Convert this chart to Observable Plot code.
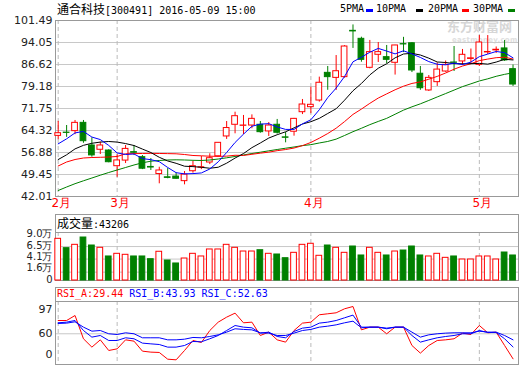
<!DOCTYPE html>
<html><head><meta charset="utf-8">
<script src="https://cdn.jsdelivr.net/npm/d3@7"></script>
<script src="https://cdn.jsdelivr.net/npm/@observablehq/plot@0.6"></script>
<style>
body{margin:0;background:#fff;}
#wrap{position:relative;width:520px;height:365px;overflow:hidden;background:#fff;font-family:"DejaVu Sans",sans-serif;color:#000;}
.abs{position:absolute;white-space:nowrap;}
.mono{font-family:"DejaVu Sans Mono",monospace;font-size:10px;}
.cjk{font-family:"Noto Sans CJK SC",sans-serif;font-size:12px;}
.sw{position:absolute;width:7px;height:3px;}
.box{position:absolute;box-sizing:border-box;border:1px solid #999;border-bottom:none;}
#wrap svg{position:absolute;left:0;}
</style></head><body>
<div id="wrap">
  <div class="abs" style="left:447px;top:19px;line-height:14px;font-family:'Noto Sans CJK SC';font-weight:bold;font-size:13px;color:#d6d6d6;">东方财富网</div>
  <div class="abs" style="left:452px;top:37px;line-height:7px;font-family:'DejaVu Sans';font-weight:bold;font-size:7px;color:#e0e0e0;letter-spacing:0.3px;">eastmoney.com</div>
</div>
<script>
// ---- data ----
const opens  = [62.5,63.6,64.1,66.9,59.25,57.8,57.55,52.25,54.15,57.0,55.3,52.0,49.6,48.5,48.75,47.2,50.55,51.8,53.5,55.6,62.3,66.25,65.9,66.0,66.25,64.0,66.25,62.0,63.9,70.5,72.2,74.45,83.8,82.1,82.35,98.0,95.3,85.5,89.9,89.1,87.2,93.5,93.8,83.5,77.85,80.65,84.25,87.3,87.65,88.5,86.5,90.7,91.4,92.05,85.05];
const highs  = [67.4,66.0,67.7,67.7,61.85,60.35,57.8,56.1,59.25,59.25,55.85,54.85,51.9,51.45,50.0,50.45,53.95,55.55,56.45,60.2,67.35,70.5,69.4,69.6,67.35,67.0,68.05,63.65,68.4,74.8,78.95,82.35,85.95,89.65,93.0,100.0,95.85,94.75,94.05,93.05,93.1,95.8,94.0,85.95,82.9,87.15,87.8,92.7,91.7,91.85,96.4,96.4,92.55,94.75,86.45];
const lows   = [61.2,62.0,62.9,60.0,55.3,56.2,53.4,48.5,53.15,55.85,51.1,50.8,46.3,48.0,47.9,45.95,49.9,51.1,52.8,55.3,61.3,63.2,62.95,64.9,63.4,62.3,63.1,60.15,62.4,69.7,70.0,73.9,77.9,77.85,82.0,92.05,87.4,85.15,87.3,86.85,83.05,90.65,83.9,77.9,77.5,79.2,84.0,84.25,86.3,86.6,85.95,90.0,90.35,87.65,79.2];
const closes = [63.4,63.5,66.9,60.7,55.9,59.25,53.6,54.2,58.1,56.8,51.4,51.8,50.8,48.3,48.0,49.4,52.25,51.9,54.95,60.15,65.15,69.15,66.0,68.25,63.75,66.0,63.55,61.85,68.25,73.1,73.0,80.45,82.35,84.35,92.7,97.8,88.2,90.8,90.8,88.2,93.05,93.4,84.6,78.6,82.1,84.9,86.5,87.2,89.9,88.7,94.05,90.85,91.6,88.0,79.85];
const volumes = [7.98,6.19,6.83,8.23,6.70,6.26,4.60,5.11,4.92,4.60,4.60,4.08,5.50,3.83,3.26,4.21,5.11,4.60,5.94,5.94,6.83,6.26,5.55,5.55,5.80,5.11,4.98,4.27,5.30,6.83,7.03,4.73,6.70,6.26,5.30,6.51,4.79,6.26,5.30,4.79,5.55,5.74,6.51,4.79,4.60,5.11,4.34,4.60,4.02,4.02,4.60,4.60,4.02,5.36,4.79];
const ma5  = [59.8,61.5,63.5,64.0,62.1,61.25,59.27,56.73,56.21,56.39,54.82,54.46,53.78,51.82,50.06,49.66,49.75,49.97,51.3,53.73,56.88,60.26,63.08,65.74,66.46,66.63,65.51,64.68,64.68,66.55,67.95,71.33,75.43,78.65,82.57,87.53,89.08,90.77,92.06,91.16,90.21,91.25,90.2,89.0,87.6,86.7,86.5,87.1,86.6,87.44,89.27,90.14,91.02,90.63,88.87];
const ma10 = [54.5,56.1,58.1,59.3,60.0,60.4,60.6,60.4,59.9,59.24,58.04,56.87,55.26,54.02,53.23,52.24,52.11,51.88,51.56,51.9,53.27,55.0,56.53,58.52,60.1,61.76,62.89,63.88,65.21,66.51,67.29,68.42,70.06,71.67,74.56,77.74,80.2,83.1,85.36,86.87,88.87,90.17,90.39,89.82,88.76,87.47,87.3,86.94,86.85,86.9,87.0,86.74,87.44,88.38,88.16];
const ma20 = [52.32,53.67,54.51,55.02,55.19,55.26,55.36,55.53,56.44,56.5,56.55,56.6,56.55,56.5,56.44,56.2,55.87,55.76,55.63,55.57,55.65,55.94,55.89,56.27,56.66,57.0,57.5,57.88,58.39,59.2,60.28,61.71,63.29,65.09,67.33,69.75,71.55,73.49,75.28,76.69,78.08,79.29,80.22,80.74,81.66,82.6,83.75,85.02,86.1,86.88,87.93,88.45,88.92,89.1,88.46];
const ma30 = [44.04,45.22,46.34,47.32,48.26,49.21,50.12,50.97,51.81,52.66,53.4,53.94,54.18,54.35,54.41,54.35,54.24,54.18,54.35,54.68,55.09,55.53,56.04,56.54,56.98,57.45,57.89,58.33,58.74,59.21,59.53,60.1,60.61,61.4,62.63,63.91,65.07,66.29,67.38,68.42,69.81,71.2,72.32,73.33,74.47,75.65,76.8,77.97,79.14,80.09,81.05,81.78,82.63,83.29,83.82];
const rsiA = [76.2,76.2,82.3,53.9,43.7,52.6,39.6,41.6,52.6,51.0,38.8,37.6,37.2,29.0,28.2,39.6,51.8,49.4,64.0,74.2,80.3,85.2,73.4,74.2,57.9,62.0,52.6,49.8,64.0,73.0,74.2,83.2,84.4,85.6,90.5,93.3,64.8,68.1,68.1,60.0,68.1,68.1,45.7,36.4,45.7,51.8,52.6,53.9,60.8,59.1,70.1,61.2,62.0,45.7,29.44];
const rsiB = [73.4,74.2,76.2,64.0,55.9,57.9,51.8,51.8,55.1,53.9,48.6,47.7,46.9,43.7,43.7,45.7,50.6,50.2,53.9,57.9,64.0,70.1,68.1,67.3,60.8,62.0,56.7,55.1,62.8,66.9,68.1,73.0,74.2,76.2,79.5,82.8,68.1,68.1,68.1,66.1,68.1,68.1,57.9,49.8,52.6,55.1,56.7,57.9,60.0,60.0,64.0,61.6,61.6,53.9,43.93];
const rsiC = [72.6,73.0,74.6,68.1,63.2,64.0,60.0,59.1,61.2,60.0,55.1,55.1,55.1,52.6,52.6,53.4,55.5,55.1,56.7,58.7,62.0,66.1,65.3,64.8,61.2,60.8,57.9,57.9,60.8,64.0,65.3,68.1,69.3,70.9,73.4,75.4,67.3,68.1,68.1,66.9,68.1,68.1,62.0,55.9,58.7,60.0,60.8,61.2,61.2,61.2,63.2,62.0,62.0,57.9,52.63];
const priceTicks = [42.01,49.45,56.88,64.32,71.75,79.18,86.62,94.05,101.49];
const volTicks = [9.0,6.5,4.1,1.6];
const monthLabels = ["2月","3月","4月","5月"];
const monthIndex = [0,7,30,50];

// ---- build ----
const RED="#ff0000", GREEN="#008000", BLUE="#0000ff", GRID="#c8c8c8", FRAME="#999", INK="#222";
const candles = closes.map((c,i)=>({i, open:opens[i], high:highs[i], low:lows[i], close:c, up:c>=opens[i], vol:volumes[i]}));
const months = monthIndex.map((i,k)=>({i, label:monthLabels[k]}));
const series = arr => arr.map((v,i)=>({i, v}));
const xDomain = [-0.32, 54.65];
const style = {background:"transparent", fontFamily:"DejaVu Sans, sans-serif", fontSize:"11px", color:INK, overflow:"visible"};
const colOf = d => d.up ? RED : GREEN;
const vgrid = () => Plot.gridX(monthIndex, {stroke:"#bbb", strokeOpacity:1, strokeDasharray:"4,3"});
const leftLabel = (vals, fmt, dy=0, fontSize=11) => Plot.text(vals, {y:d=>d, text:fmt, frameAnchor:"left", textAnchor:"end", dx:-3, dy, fill:INK, fontSize});

const price = Plot.plot({
  width:520, height:214, marginLeft:55, marginRight:2, marginTop:20, marginBottom:18,
  style, x:{domain:xDomain, axis:null}, y:{domain:[42.01,101.49], axis:null}, color:{type:"identity"},
  marks:[
    Plot.gridY(priceTicks, {stroke:GRID, strokeOpacity:1}),
    vgrid(),
    Plot.frame({stroke:FRAME}),
    leftLabel(priceTicks, d=>d.toFixed(2)),
    Plot.text(months, {x:"i", text:"label", frameAnchor:"bottom", dy:10, dx:3, fill:RED, fontSize:12}),
    Plot.ruleX(candles, {x:"i", y1:"low", y2:"high", stroke:colOf}),
    Plot.rect(candles, {x1:d=>d.i-0.34, x2:d=>d.i+0.34, y1:"open", y2:"close", fill:d=>d.up?"#fff":GREEN, stroke:colOf}),
    Plot.line(series(ma30), {x:"i", y:"v", stroke:GREEN, strokeWidth:1}),
    Plot.line(series(ma20), {x:"i", y:"v", stroke:RED, strokeWidth:1}),
    Plot.line(series(ma10), {x:"i", y:"v", stroke:"#000", strokeWidth:1}),
    Plot.line(series(ma5),  {x:"i", y:"v", stroke:BLUE, strokeWidth:1})
  ]
});
price.style.top = "0px";

const volFmt = d => d.toFixed(1) + "万";
const vol = Plot.plot({
  width:520, height:72, marginLeft:55, marginRight:2, marginTop:18, marginBottom:6,
  style, x:{domain:xDomain, axis:null}, y:{domain:[0,9.19], axis:null}, color:{type:"identity"},
  marks:[
    Plot.gridY(volTicks.slice(1), {stroke:GRID, strokeOpacity:1}),
    vgrid(),
    Plot.frame({stroke:FRAME}),
    leftLabel([volTicks[0]], volFmt, 0, 10),
    leftLabel([volTicks[1]], volFmt, -1, 10),
    leftLabel([volTicks[2]], volFmt, -2.5, 10),
    leftLabel([volTicks[3]], volFmt, -4, 10),
    Plot.text(["0"], {text:d=>d, frameAnchor:"bottom-left", textAnchor:"end", dx:-3, dy:2, fill:INK, fontSize:10}),
    Plot.rectY(candles, {x1:d=>d.i-0.34, x2:d=>d.i+0.34, y:"vol", fill:d=>d.up?"#fff":GREEN, stroke:colOf})
  ]
});
vol.style.top = "214px";

const rsi = Plot.plot({
  width:520, height:79, marginLeft:55, marginRight:2, marginTop:15, marginBottom:1,
  style, x:{domain:xDomain, axis:null}, y:{domain:[22.5,99.4], axis:null},
  marks:[
    Plot.gridY([60], {stroke:GRID, strokeOpacity:1}),
    vgrid(),
    Plot.frame({stroke:FRAME}),
    leftLabel([60], d=>String(d)),
    leftLabel([97], d=>String(d), 6),
    Plot.text(["0"], {text:d=>d, frameAnchor:"bottom-left", textAnchor:"end", dx:-3, dy:-7, fill:INK}),
    Plot.line(series(rsiA), {x:"i", y:"v", stroke:RED, strokeWidth:1}),
    Plot.line(series(rsiB), {x:"i", y:"v", stroke:BLUE, strokeWidth:1}),
    Plot.line(series(rsiC), {x:"i", y:"v", stroke:BLUE, strokeWidth:1})
  ]
});
rsi.style.top = "286px";

const wrap = document.getElementById("wrap");
wrap.append(price, vol, rsi);

// ---- text overlays ----
const html = `
<div class="abs" style="left:57px;top:1px;line-height:15px;"><span class="cjk">通合科技</span><span class="mono">[300491] 2016-05-09 15:00</span></div>
<div class="abs mono" style="left:340px;top:3px;line-height:12px;">5PMA</div><div class="sw" style="left:366px;top:9px;background:${BLUE}"></div>
<div class="abs mono" style="left:376px;top:3px;line-height:12px;">10PMA</div><div class="sw" style="left:416px;top:9px;background:#000"></div>
<div class="abs mono" style="left:428px;top:3px;line-height:12px;">20PMA</div><div class="sw" style="left:462px;top:9px;background:${RED}"></div>
<div class="abs mono" style="left:473px;top:3px;line-height:12px;">30PMA</div><div class="sw" style="left:508px;top:9px;background:${GREEN}"></div>
<div class="box" style="left:55px;top:214px;width:464px;height:18px;"></div>
<div class="abs" style="left:57px;top:214px;line-height:18px;"><span class="cjk">成交量</span><span class="mono">:43206</span></div>
<div class="box" style="left:55px;top:287px;width:464px;height:14px;"></div>
<div class="abs mono" style="left:57px;top:287px;line-height:14px;"><span style="color:${RED}">RSI_A:29.44</span> <span style="color:${BLUE}">RSI_B:43.93</span> <span style="color:${BLUE}">RSI_C:52.63</span></div>`;
wrap.insertAdjacentHTML("beforeend", html);
</script>
</body></html>
